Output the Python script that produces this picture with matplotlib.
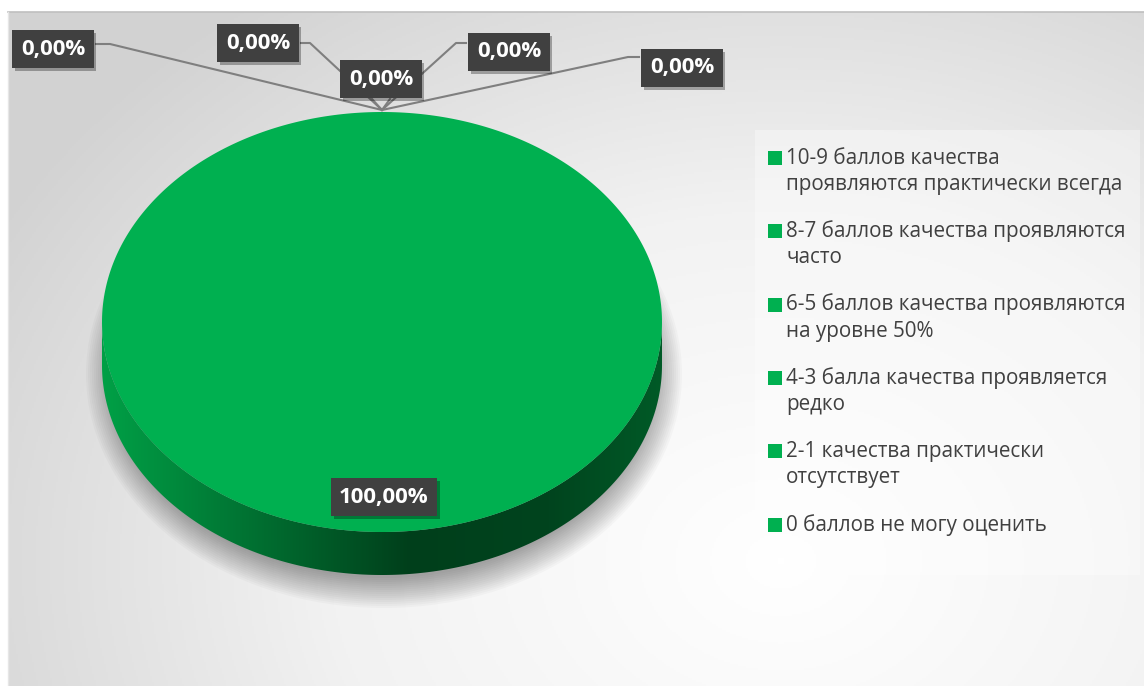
import numpy as np
import matplotlib.pyplot as plt
import matplotlib.patheffects as pe
from matplotlib.colors import LinearSegmentedColormap
from matplotlib.patches import Polygon, Ellipse, Rectangle

categories = [
    "10-9 баллов качества\nпроявляются практически всегда",
    "8-7 баллов качества проявляются\nчасто",
    "6-5 баллов качества проявляются\nна уровне 50%",
    "4-3 балла качества проявляется\nредко",
    "2-1 качества практически\nотсутствует",
    "0 баллов не могу оценить",
]
shares = [100.0, 0.0, 0.0, 0.0, 0.0, 0.0]
slice_color = "#00b050"

# label box centres and leader elbows (pixel space of the picture)
label_pos = [(384, 497), (53, 49), (258, 43), (381, 79), (509, 52), (682, 68)]
label_elbow = [None, (110, 44), (310, 43), None, (456, 43), (628, 57)]

W, H = 1144, 686
fig = plt.figure(figsize=(W / 100, H / 100), dpi=100)
ax = fig.add_axes([0, 0, 1, 1])
ax.set_xlim(0, W)
ax.set_ylim(H, 0)
ax.axis("off")

# background: soft radial grey gradient
yy, xx = np.mgrid[12:H:2, 8:W:2]
r = np.hypot((xx - 780) / 900.0, (yy - 560) / 700.0)
bg = np.clip(r, 0, 1)
bg_cmap = LinearSegmentedColormap.from_list("bg", ["#ffffff", "#f2f2f2", "#d2d2d2"])
ax.imshow(bg, cmap=bg_cmap, extent=(8, W, H, 12), aspect="auto", zorder=0)
ax.plot([8, W], [12, 12], color="#bfbfbf", lw=1.2, zorder=1)
ax.plot([8, 8], [12, H], color="#e6e6e6", lw=1.0, zorder=1)

# pie geometry
cx, cy, rx, ry, depth = 382, 322, 280, 210, 43

# shadow under the pie
for k in range(16):
    ax.add_patch(Ellipse((cx + 2, cy + 52), 2 * (rx + 18 - k * 2.0), 2 * (ry + 24 - k * 2.0),
                         color="#000000", alpha=0.022, lw=0, zorder=2))

fracs = np.array(shares) / sum(shares)
starts = np.concatenate([[0], np.cumsum(fracs)[:-1]])

def ell(theta, dy=0.0):
    return np.column_stack([cx + rx * np.cos(theta), cy - ry * np.sin(theta) + dy])

# side wall (front half) with horizontal shading
side_cmap = LinearSegmentedColormap.from_list(
    "side", [(0, "#00a046"), (0.25, "#007433"), (0.55, "#003f1b"),
             (0.8, "#00441e"), (1, "#005a27")])
th = np.linspace(np.pi, 2 * np.pi, 300)
side = np.vstack([ell(th), ell(th[::-1], depth)])
side_poly = Polygon(side, closed=True, fc="none", ec="none", zorder=3)
ax.add_patch(side_poly)
grad = np.linspace(0, 1, 256)[None, :]
im = ax.imshow(grad, cmap=side_cmap, extent=(cx - rx, cx + rx, cy + ry + depth, cy),
               aspect="auto", zorder=3)
im.set_clip_path(side_poly)

# top faces, clockwise from 12 o'clock
anchors = []
for f, s in zip(fracs, starts):
    a0 = np.pi / 2 - 2 * np.pi * s
    a1 = np.pi / 2 - 2 * np.pi * (s + f)
    if f > 0:
        t = np.linspace(a0, a1, 400)
        pts = ell(t)
        if f < 1:
            pts = np.vstack([[cx, cy], pts])
        ax.add_patch(Polygon(pts, closed=True, fc=slice_color, ec="none", zorder=4))
    mid = (a0 + a1) / 2
    anchors.append(ell(np.array([mid]))[0])

# data labels
for i, v in enumerate(shares):
    txt = f"{v:.2f}%".replace(".", ",")
    lx, ly = label_pos[i]
    if fracs[i] < 1:
        ax_, ay_ = anchors[i]
        ay_ -= 2
        if label_elbow[i] is None:
            ax.plot([lx - 9, ax_, lx + 9], [ly + 20, ay_, ly + 20], color="#7f7f7f", lw=1.5, zorder=5)
        else:
            ex, ey = label_elbow[i]
            sx = lx + 43 if ex > lx else lx - 43
            ax.plot([sx, ex, ax_], [ey, ey, ay_], color="#7f7f7f", lw=1.5, zorder=5)
    t = ax.text(lx, ly, txt, ha="center", va="center", color="white", fontsize=16,
                fontweight="bold", family=["Open Sans", "DejaVu Sans"], zorder=7,
                bbox=dict(boxstyle="square,pad=0.38", fc="#404040", ec="none"))
    t.get_bbox_patch().set_path_effects(
        [pe.SimplePatchShadow(offset=(2, -2), shadow_rgbFace="#000000", alpha=0.3), pe.Normal()])

# legend
ax.add_patch(Rectangle((755, 130), 385, 445, fc="#ffffff", alpha=0.35, ec="none", zorder=2))
y0 = 164
line_step = 26
for i, lab in enumerate(categories):
    base = y0 + i * 73.3
    ax.add_patch(Rectangle((768, base - 13), 14, 14, fc=slice_color, ec="none", zorder=6))
    # va="baseline" pins the last line, so push down by the extra lines
    ax.text(786, base + lab.count("\n") * line_step, lab, ha="left", va="baseline",
            fontsize=14.9, color="#404040", family=["Open Sans", "DejaVu Sans"],
            linespacing=1.32, zorder=6)

fig.savefig("out.png", dpi=100)
